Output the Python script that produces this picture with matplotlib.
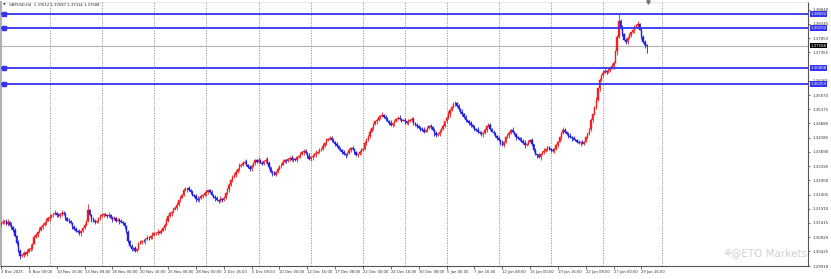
import numpy as np
import matplotlib
matplotlib.use("Agg")
import matplotlib.pyplot as plt
import matplotlib.transforms as mtransforms

# --- chart data (GBPUSD H4) ---
symbol = "GBPUSD,H4"
last_ohlc = ["1.37612", "1.37687", "1.37314", "1.37588"]

first_bar = 2  # first visible bar = 3 Nov 08:00, bars counted from 3 Nov 00:00
# closes in pips above 1.30000
close_pips = [
    140, 146, 150, 138, 144, 135, 128, 118, 96, 72,
    45, 25, 30, 38, 34, 42, 50, 55, 70, 92,
    100, 110, 118, 128, 135, 142, 150, 158, 162, 168,
    172, 176, 170, 165, 172, 176, 174, 160, 150,
    148, 140, 128, 120, 115, 110, 105, 112, 125, 135,
    150, 185, 170, 155, 148, 145, 150, 158, 165, 170,
    172, 168, 165, 170, 160, 155, 158, 150, 152, 148,
    145, 140, 130, 110, 80, 60, 50, 55, 45, 52,
    70, 75, 80, 78, 85, 90, 88, 95, 100, 105,
    105, 110, 108, 115, 125, 135, 150, 165, 175, 180,
    190, 195, 205, 220, 230, 240, 255, 260, 262, 255,
    250, 240, 235, 225, 220, 228, 235, 238, 245, 250,
    255, 248, 240, 232, 228, 222, 218, 225, 220, 230,
    245, 260, 275, 290, 300, 310, 320, 330, 340, 345,
    350, 355, 345, 335, 330, 340, 350, 360, 355, 362,
    352, 348, 358, 362, 350, 335, 320, 315, 310, 318,
    330, 340, 345, 355, 360, 358, 365, 368, 362, 365,
    360, 370, 375, 380, 388, 392, 385, 375, 365, 370,
    375, 380, 385, 390, 395, 400, 410, 420, 430, 435,
    437, 430, 425, 418, 410, 400, 395, 388, 380, 378,
    385, 395, 402, 398, 390, 378, 382, 390, 395, 400,
    420, 430, 445, 460, 472, 485, 495, 500, 510, 515,
    518, 510, 505, 498, 490, 482, 488, 495, 505, 508,
    502, 498, 500, 495, 490, 495, 500, 505, 490,
    482, 478, 472, 468, 465, 460, 466, 472, 478, 475,
    465, 455, 447, 452, 460, 470, 480, 495, 508, 520,
    534, 545, 555, 560, 550, 540, 528, 520, 510, 500,
    495, 490, 482, 475, 470, 465, 460, 455, 450, 454,
    465, 478, 482, 470, 460, 454, 445, 438, 430, 420,
    412, 425, 440, 448, 455, 465, 460, 450, 440, 437,
    432, 428, 420, 412, 418, 425, 430, 415, 395, 380,
    378, 372, 380, 388, 392, 400, 405, 398, 395, 392,
    400, 412, 425, 440, 455, 465, 460, 452, 445, 440,
    437, 432, 430, 425, 420, 423, 418, 425, 440, 450,
    470, 500, 520, 545, 570, 610, 640, 655, 665, 672,
    668, 674, 680, 688, 700, 740, 790, 845,
    820, 800, 780, 772, 785, 795, 805, 812, 825, 830, 835, 815, 790, 772, 761.2, 758.8,
]
first_open_pips = 138
# wick lengths, one digit per bar, 3 pips per unit
upper_wicks = ("2312423121 3212132412 2131223142 2312132213 1223132121 8212312321 2131231223 "
               "1212131212 2121321322 3121231212 2312132132 2123121321 2312213122 1213221312 "
               "2313212231 2123212312 1231212321 2131221312 2312131212 2312121321 2132112312 "
               "2131212213 1221312123 2121312212 1223121312 2131212421 3212131212 2121312121 "
               "2312212131 2121312213 2312131212 2131212312 1213212312 2121212312 2131213312 "
               "1321282312 2312213132 21")
lower_wicks = ("2131212312 2312131221 1212312131 2131221312 1312123121 2131213212 1212312131 "
               "2313121212 1213121312 2121312131 1312121312 2131212132 1213121212 2312131212 "
               "1213212131 2131213121 1212312131 2121312123 1312121212 2131212131 1213121312 "
               "2121213121 1312123121 2131212312 1212131213 2131212131 1213121213 2131212312 "
               "1212131212 2131213121 1312122131 4121312121 2131212131 1213121213 2121312131 "
               "2131421312 2121312131 39")
wick_unit = 3

date_labels = ["3 Nov 2025", "6 Nov 00:00", "10 Nov 16:00", "13 Nov 08:00", "18 Nov 00:00",
               "20 Nov 16:00", "25 Nov 08:00", "28 Nov 00:00", "2 Dec 16:00", "5 Dec 08:00",
               "10 Dec 00:00", "12 Dec 16:00", "17 Dec 08:00", "22 Dec 00:00", "24 Dec 16:00",
               "30 Dec 08:00", "5 Jan 00:00", "7 Jan 16:00", "12 Jan 08:00", "15 Jan 00:00",
               "19 Jan 16:00", "22 Jan 08:00", "27 Jan 00:00", "29 Jan 16:00"]
date_label_bars = [2, 18, 34, 50, 66, 82, 98, 114, 130, 146, 162, 178, 194, 210, 226,
                   242, 258, 274, 290, 306, 322, 338, 354, 370]
week_separators = [30, 60, 90, 120, 150, 180, 210, 234, 258, 288, 318, 348, 382]

price_ticks = [1.38840, 1.38345, 1.37850, 1.37355, 1.36860, 1.36365, 1.35870, 1.35375,
               1.34880, 1.34385, 1.33890, 1.33395, 1.32900, 1.32405, 1.31910, 1.31415,
               1.30920, 1.30425]
price_min, price_max = 1.29918, 1.39108

levels = [1.38692, 1.38202, 1.36808, 1.36253]
current_price = 1.37588

# --- build candles ---
closes = 1.3 + np.array(close_pips) / 10000.0
opens = np.concatenate([[1.3 + first_open_pips / 10000.0], closes[:-1]])
up = np.array([int(c) for c in upper_wicks.replace(" ", "")]) * wick_unit / 10000.0
dn = np.array([int(c) for c in lower_wicks.replace(" ", "")]) * wick_unit / 10000.0
highs = np.maximum(opens, closes) + up
lows = np.minimum(opens, closes) - dn
bars = np.arange(len(closes)) + first_bar

bull_color = "#f02020"
bear_color = "#1e1ee6"
line_blue = "#3434f0"

fig = plt.figure(figsize=(8.31, 2.79), dpi=100)
ax = fig.add_axes([1 / 831, 13 / 279, 807 / 831, 264 / 279])

colors = np.where(closes >= opens, bull_color, bear_color)
ax.vlines(bars, lows, highs, colors=colors, lw=0.6, zorder=3)
ax.bar(bars, np.maximum(np.abs(closes - opens), 0.00003), bottom=np.minimum(opens, closes),
       width=0.8, color=colors, edgecolor=colors, lw=0.3, zorder=4)

for s in week_separators:
    ax.axvline(s, color="#8c8c8c", ls=(0, (1.5, 1.5)), lw=0.6, zorder=1)

blend = mtransforms.blended_transform_factory(ax.transAxes, ax.transData)
for lvl in levels:
    ax.axhline(lvl, color=line_blue, lw=1.3, zorder=5)
    ax.plot([0.004], [lvl], marker="s", ms=2.2, color=line_blue, transform=blend, zorder=6)
    ax.text(1.003, lvl, f"{lvl:.5f}", transform=blend, ha="left", va="center", fontsize=2.8,
            color="white", bbox=dict(facecolor=line_blue, edgecolor="none", pad=0.6), zorder=8,
            clip_on=False)

ax.axhline(current_price, color="#b4b4b4", lw=0.8, zorder=2)
ax.text(1.003, current_price, f"{current_price:.5f}", transform=blend, ha="left", va="center",
        fontsize=2.8, color="white", bbox=dict(facecolor="black", edgecolor="none", pad=0.6),
        zorder=8, clip_on=False)

ax.set_xlim(2.47, 465.7)
ax.set_ylim(price_min, price_max)

# price labels hidden behind the level boxes are left out (MT4 paints the boxes over them)
shown_ticks = [p for p in price_ticks if min(abs(p - lvl) for lvl in levels) > 0.0009]
ax.yaxis.tick_right()
ax.set_yticks(shown_ticks + [price_min])
ax.set_yticklabels([f"{p:.5f}" for p in shown_ticks + [price_min]])
ax.tick_params(axis="y", labelsize=2.8, length=1.5, width=0.5, pad=1.5, colors="#333333")
ax.set_xticks(date_label_bars)
ax.set_xticklabels(date_labels)
ax.tick_params(axis="x", labelsize=2.7, length=2, width=0.5, pad=1.2, colors="#333333")
plt.setp(ax.get_xticklabels(), ha="left")

for side in ["right", "bottom"]:
    ax.spines[side].set_color("#555555")
    ax.spines[side].set_linewidth(0.8)
ax.spines["left"].set_color("#b0b0b0")
ax.spines["left"].set_linewidth(1.5)
ax.spines["top"].set_color("#dddddd")
ax.spines["top"].set_linewidth(0.5)

fig.text(3 / 831, 1 - 5 / 279, "\u25bc", fontsize=2.5, color="#444444", va="center")
fig.text(9 / 831, 1 - 5 / 279, symbol + "  " + " ".join(last_ohlc), fontsize=2.7,
         color="#222222", va="center")
ax.plot([373.5], [price_max], marker="v", ms=2.5, color="#777777", clip_on=False, zorder=7)

fig.text(727 / 831, 1 - 254 / 279, "\u2698", fontsize=8, color="#cccccc", ha="center", va="center")
fig.text(769 / 831, 1 - 253 / 279, "@ETO Markets", fontsize=7.5, color="#d0d0d0",
         ha="center", va="center")

fig.savefig("out.png", dpi=100, facecolor="white")
